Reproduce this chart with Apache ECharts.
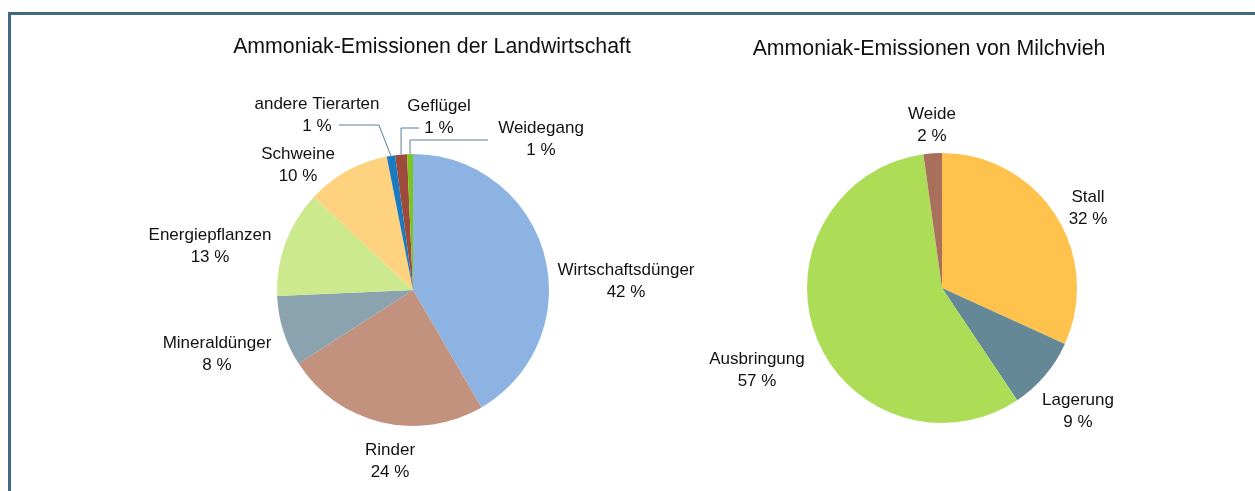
<!DOCTYPE html>
<html><head><meta charset="utf-8">
<script src="https://cdn.jsdelivr.net/npm/echarts@6/dist/echarts.min.js"></script>
<style>html,body{margin:0;padding:0;background:#fff}#c{width:1255px;height:491px}</style>
</head><body><div id="c"></div>
<script>
// ---- data ----
const titles = ['Ammoniak-Emissionen der Landwirtschaft', 'Ammoniak-Emissionen von Milchvieh'];
const farmCategories = ['Wirtschaftsdünger', 'Rinder', 'Mineraldünger', 'Energiepflanzen', 'Schweine', 'andere Tierarten', 'Geflügel', 'Weidegang'];
const farmValues = [41.6, 24.3, 8.4, 12.7, 9.9, 1.0, 1.4, 0.7];
const dairyCategories = ['Stall', 'Lagerung', 'Ausbringung', 'Weide'];
const dairyValues = [31.8, 8.8, 57.2, 2.2];

// ---- styles / layout ----
const farmColors = ['#8DB3E2', '#C3927F', '#8BA3AF', '#CDE98D', '#FFD27F', '#1B7BC2', '#9E4B3B', '#7CC520'];
const dairyColors = ['#FFC24C', '#658896', '#ADDC56', '#A8705B'];
const FONT = '"Liberation Sans", Arial, sans-serif';
const labelPos = [
  { // left pie
    'Wirtschaftsdünger': [626, 281], 'Rinder': [390, 461], 'Mineraldünger': [217, 354],
    'Energiepflanzen': [210, 246], 'Schweine': [298, 165], 'andere Tierarten': [317, 115],
    'Geflügel': [439, 117], 'Weidegang': [541, 139]
  },
  { // right pie
    'Stall': [1088, 208], 'Lagerung': [1078, 411], 'Ausbringung': [757, 370], 'Weide': [932, 125]
  }
];
// leader lines: vertical offset of horizontal run from label centre, end x offset from label centre, bend x offset from slice edge
const leaders = {
  'andere Tierarten': { dy: 10, endDx: 22, bendDx: -12 },
  'Geflügel': { dy: 11, endDx: -20, bendDx: 0 },
  'Weidegang': { dy: 1, endDx: -53, bendDx: 0 }
};

function makeData(cats, vals, cols) {
  return cats.map((c, i) => ({
    name: c, value: vals[i],
    itemStyle: { color: cols[i] },
    labelLine: { show: !!leaders[c] }
  }));
}

const seriesCats = [farmCategories, dairyCategories];

function layoutLabel(params) {
  const name = seriesCats[params.seriesIndex][params.dataIndex];
  const p = labelPos[params.seriesIndex][name];
  const out = { x: p[0], y: p[1], align: 'center', verticalAlign: 'middle' };
  const ld = leaders[name];
  if (ld && params.labelLinePoints) {
    const s = params.labelLinePoints[0];
    const ly = p[1] + ld.dy;
    out.labelLinePoints = [[s[0], s[1]], [s[0] + ld.bendDx, ly], [p[0] + ld.endDx, ly]];
  }
  return out;
}

const labelCommon = {
  show: true,
  position: 'outside',
  formatter: '{b}\n{d} %',
  fontFamily: FONT,
  fontSize: 17,
  lineHeight: 22,
  color: '#111'
};

const chart = echarts.init(document.getElementById('c'), null, { renderer: 'canvas' });
chart.setOption({
  animation: false,
  backgroundColor: '#ffffff',
  graphic: [
    { type: 'rect', shape: { x: 9.5, y: 13.5, width: 1400, height: 700 },
      style: { fill: 'none', stroke: '#3F6A82', lineWidth: 3 }, silent: true },
    { type: 'text', x: 432, y: 47, style: { text: titles[0], font: '21.3px ' + FONT, fill: '#111', align: 'center', verticalAlign: 'middle' } },
    { type: 'text', x: 929, y: 49, style: { text: titles[1], font: '21.3px ' + FONT, fill: '#111', align: 'center', verticalAlign: 'middle' } }
  ],
  series: [
    {
      type: 'pie', center: [413, 290], radius: 136, startAngle: 90, clockwise: true,
      avoidLabelOverlap: false, percentPrecision: 0, silent: true,
      label: labelCommon,
      labelLine: { show: false, length: 20, length2: 20, lineStyle: { color: '#5B7F96', width: 1 } },
      labelLayout: layoutLabel,
      emphasis: { disabled: true },
      data: makeData(farmCategories, farmValues, farmColors)
    },
    {
      type: 'pie', center: [942, 288], radius: 135, startAngle: 90, clockwise: true,
      avoidLabelOverlap: false, percentPrecision: 0, silent: true,
      label: labelCommon,
      labelLine: { show: false },
      labelLayout: layoutLabel,
      emphasis: { disabled: true },
      data: makeData(dairyCategories, dairyValues, dairyColors)
    }
  ]
});
</script></body></html>
